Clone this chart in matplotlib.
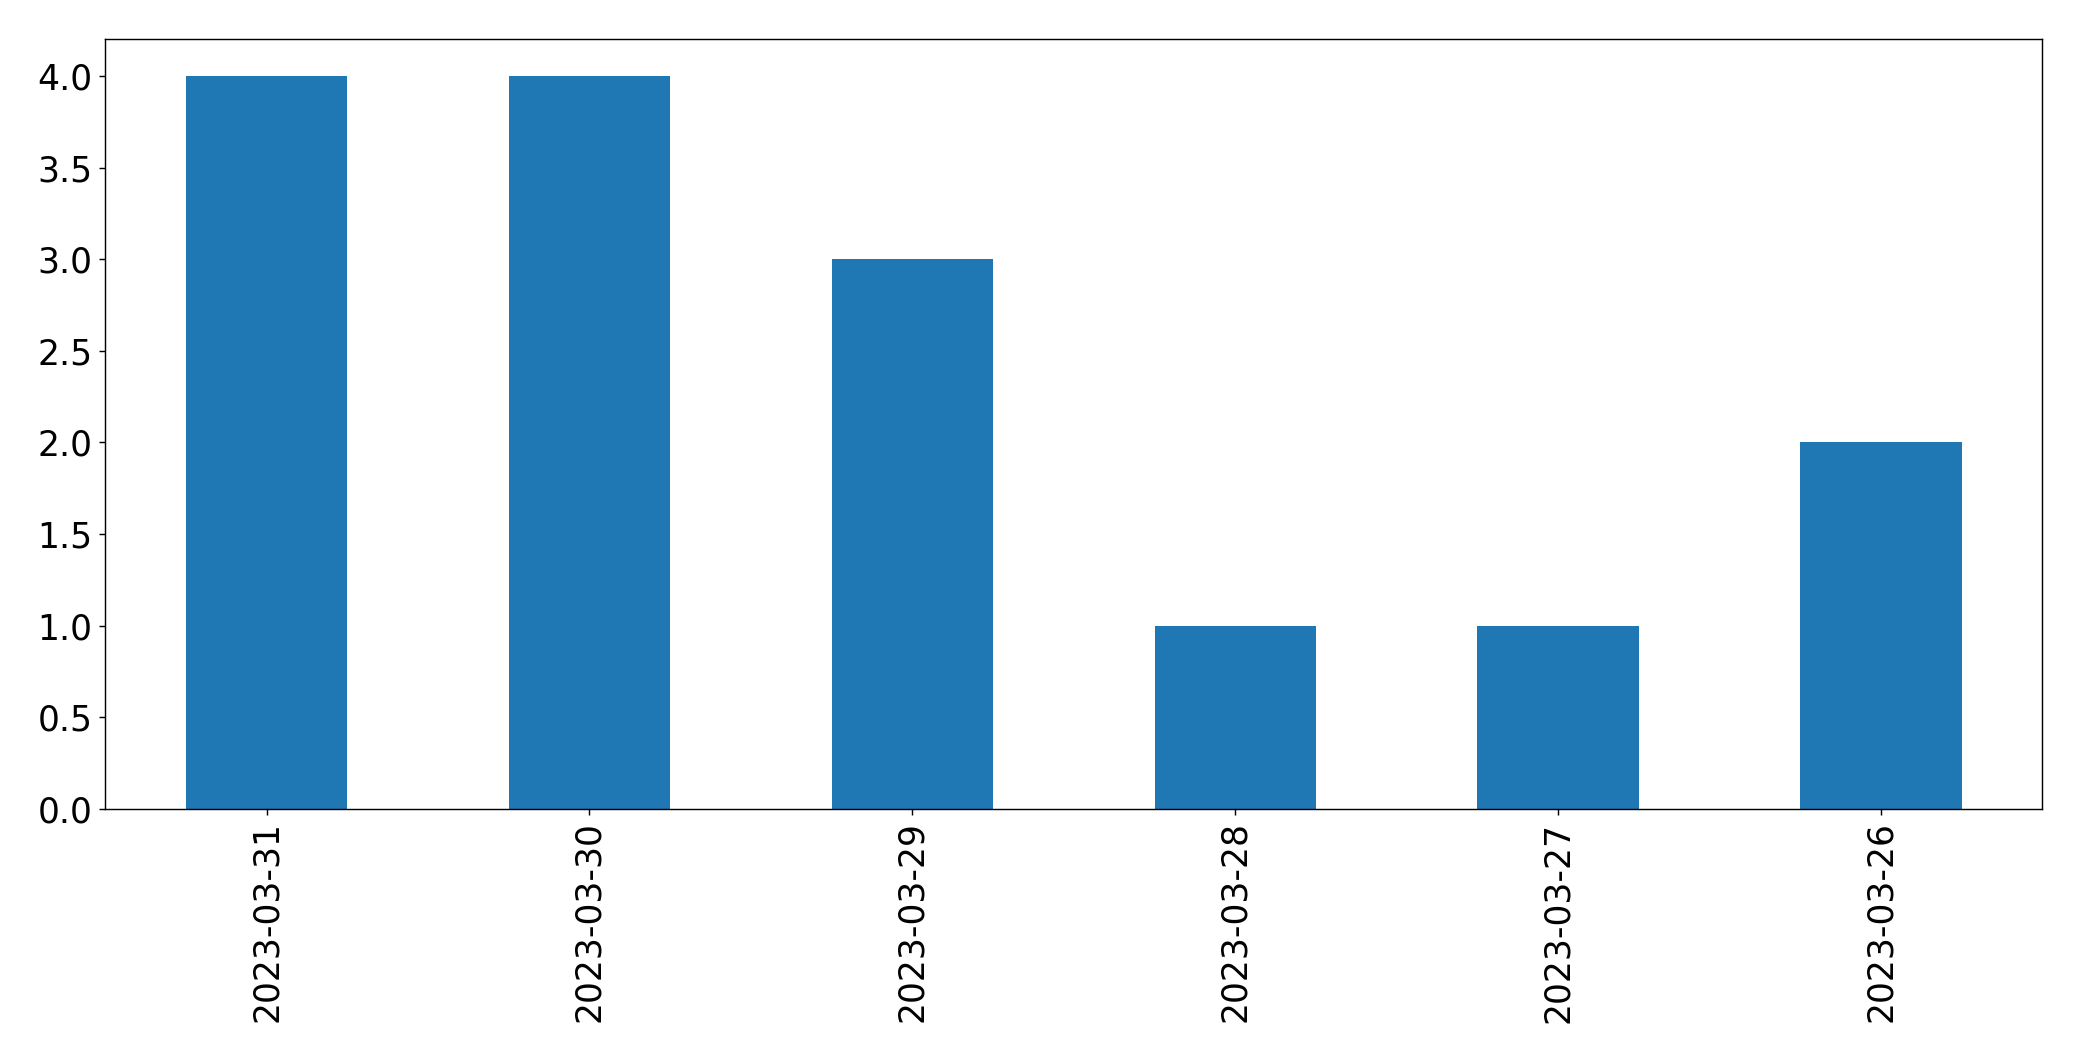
import pandas as pd
import matplotlib
matplotlib.use('Agg')
import matplotlib.pyplot as plt

dates = ['2023-03-31', '2023-03-30', '2023-03-29', '2023-03-28', '2023-03-27', '2023-03-26']
counts = [4, 4, 3, 1, 1, 2]

plt.rcParams['font.size'] = 19.5

series = pd.Series(counts, index=dates)

dpi = 128
fig, ax = plt.subplots(figsize=(2082 / dpi, 1061 / dpi), dpi=dpi)
series.plot(kind='bar', ax=ax, color='#1f77b4', rot=90)
ax.set_xlabel('')

fig.subplots_adjust(left=0.0505, right=0.981, top=0.963, bottom=0.2375)
fig.savefig('out.png', dpi=dpi)
